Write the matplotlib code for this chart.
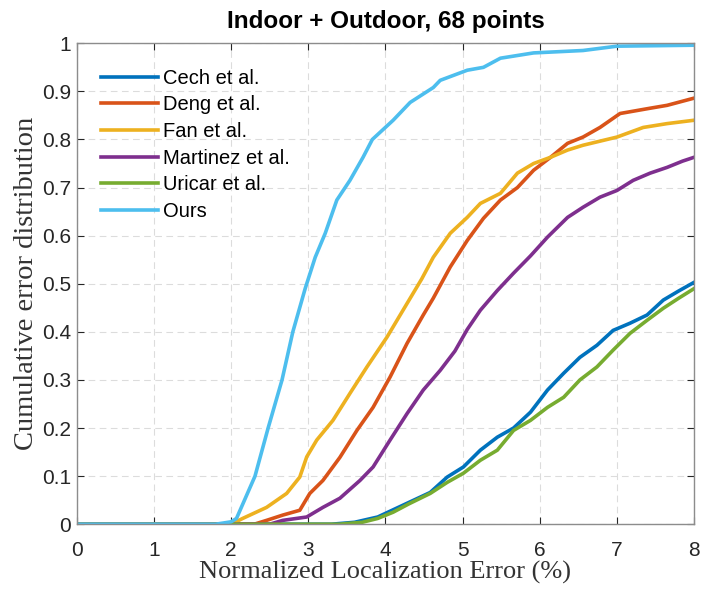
import matplotlib
matplotlib.use('Agg')
import matplotlib.pyplot as plt

# curve points (x = error %, y = cumulative fraction)
cech_x = [0, 3.3, 3.6, 3.9, 4.1, 4.3, 4.58, 4.8, 5.01, 5.23, 5.45, 5.66, 5.88, 6.1, 6.31, 6.52,
          6.74, 6.95, 7.17, 7.39, 7.6, 7.8, 8.0]
cech_y = [0, 0, 0.004, 0.015, 0.03, 0.045, 0.066, 0.098, 0.119, 0.154, 0.181, 0.2, 0.233, 0.279,
          0.314, 0.347, 0.372, 0.403, 0.418, 0.435, 0.466, 0.485, 0.503]

uricar_x = [0, 3.4, 3.7, 3.9, 4.1, 4.3, 4.58, 4.8, 5.01, 5.23, 5.45, 5.66, 5.88, 6.1, 6.31, 6.52,
            6.74, 6.95, 7.17, 7.39, 7.6, 7.8, 8.0]
uricar_y = [0, 0, 0.004, 0.012, 0.025, 0.042, 0.064, 0.087, 0.106, 0.133, 0.154, 0.195, 0.216,
            0.243, 0.264, 0.3, 0.327, 0.362, 0.397, 0.424, 0.449, 0.47, 0.49]

martinez_x = [0, 2.5, 2.67, 2.98, 3.19, 3.41, 3.67, 3.84, 4.06, 4.28, 4.49, 4.71, 4.9, 5.06, 5.23,
              5.45, 5.66, 5.88, 6.1, 6.36, 6.56, 6.78, 7.0, 7.21, 7.43, 7.65, 7.85, 8.0]
martinez_y = [0, 0, 0.008, 0.015, 0.035, 0.054, 0.091, 0.119, 0.175, 0.23, 0.279, 0.32, 0.36,
              0.405, 0.445, 0.486, 0.522, 0.558, 0.597, 0.638, 0.659, 0.68, 0.694, 0.715, 0.73,
              0.742, 0.755, 0.763]

deng_x = [0, 2.3, 2.46, 2.67, 2.89, 3.02, 3.19, 3.41, 3.63, 3.84, 4.06, 4.28, 4.49, 4.62, 4.84,
          5.06, 5.27, 5.49, 5.71, 5.92, 6.14, 6.36, 6.56, 6.78, 7.04, 7.43, 7.65, 8.0]
deng_y = [0, 0, 0.008, 0.019, 0.029, 0.064, 0.091, 0.139, 0.195, 0.243, 0.306, 0.376, 0.435,
          0.47, 0.535, 0.59, 0.636, 0.674, 0.7, 0.736, 0.763, 0.792, 0.805, 0.825, 0.854, 0.865,
          0.871, 0.886]

fan_x = [0, 2.0, 2.15, 2.46, 2.72, 2.89, 2.98, 3.11, 3.32, 3.54, 3.76, 4.02, 4.28, 4.47, 4.62,
         4.84, 5.06, 5.23, 5.49, 5.71, 5.92, 6.14, 6.36, 6.56, 7.0, 7.34, 7.65, 8.0]
fan_y = [0, 0, 0.012, 0.035, 0.064, 0.098, 0.14, 0.175, 0.216, 0.272, 0.327, 0.389, 0.459, 0.51,
         0.555, 0.605, 0.638, 0.667, 0.688, 0.73, 0.75, 0.763, 0.778, 0.788, 0.805, 0.825, 0.833,
         0.84]

ours_x = [0, 1.8, 2.0, 2.07, 2.31, 2.48, 2.66, 2.8, 2.96, 3.09, 3.22, 3.37, 3.54, 3.71, 3.83,
          4.1, 4.32, 4.62, 4.71, 5.06, 5.27, 5.49, 5.92, 6.56, 7.0, 8.0]
ours_y = [0, 0, 0.005, 0.012, 0.1, 0.2, 0.3, 0.4, 0.49, 0.555, 0.605, 0.674, 0.715, 0.763, 0.8,
          0.84, 0.877, 0.908, 0.923, 0.944, 0.95, 0.969, 0.98, 0.985, 0.994, 0.996]

labels = ['Cech et al.', 'Deng et al.', 'Fan et al.', 'Martinez et al.', 'Uricar et al.', 'Ours']
colors = ['#0072BD', '#D95319', '#EDB120', '#7E2F8E', '#77AC30', '#4DBEEE']
xs = [cech_x, deng_x, fan_x, martinez_x, uricar_x, ours_x]
ys = [cech_y, deng_y, fan_y, martinez_y, uricar_y, ours_y]

plt.rcParams['font.family'] = 'Liberation Sans'

fig = plt.figure(figsize=(7.04, 5.93), dpi=100)
ax = fig.add_axes([0.109, 0.116, 0.877, 0.811])

for x, y, c, lab in zip(xs, ys, colors, labels):
    ax.plot(x, y, color=c, linewidth=2.6, label=lab)

ax.set_xlim(0, 8)
ax.set_ylim(0, 1)
ax.set_xticks(range(0, 9))
ax.set_yticks([i / 10 for i in range(11)])
ax.set_yticklabels(['0'] + ['%.1f' % (i / 10) for i in range(1, 10)] + ['1'])
ax.grid(True, linestyle=(0, (6, 4)), color='#dcdcdc', linewidth=0.8)
ax.set_axisbelow(True)
ax.tick_params(direction='in', top=True, right=True, labelsize=15, colors='#262626',
               length=5)
ax.tick_params(axis='x', pad=12)
ax.tick_params(axis='y', pad=4)
for s in ax.spines.values():
    s.set_color('#8c8c8c')
    s.set_linewidth(1.0)

ax.set_title('Indoor + Outdoor, 68 points', fontsize=17.5, fontweight='bold', pad=11)
ax.set_xlabel('Normalized Localization Error (%)', fontsize=19, family='Liberation Serif',
              color='#333333', labelpad=1)
ax.set_ylabel('Cumulative error distribution', fontsize=20.5, family='Liberation Serif',
              color='#333333', labelpad=2)

ax.legend(loc='upper left', bbox_to_anchor=(0.02, 0.972), frameon=False, fontsize=14.5,
          handlelength=2.8, handletextpad=0.25, labelspacing=0.38, borderaxespad=0.2)

plt.savefig('out.png', dpi=100)
